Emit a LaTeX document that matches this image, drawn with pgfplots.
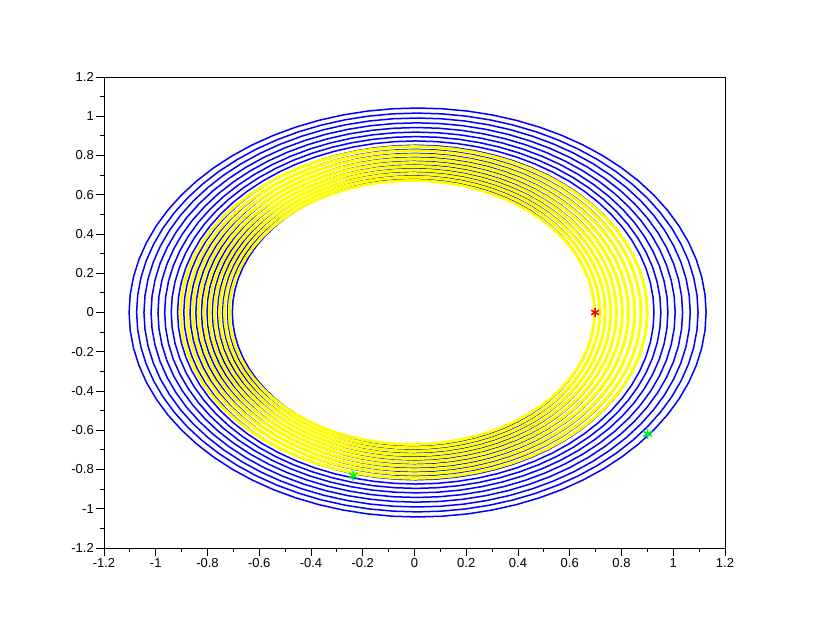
\documentclass[border=0pt]{standalone}
\usepackage{pgfplots}
\usepackage{pgfplotstable}
\pgfplotsset{compat=1.18}
\usepackage{fontspec}
\setmainfont{Liberation Sans}

\pgfplotstableread{
c s
1 0
0.99619 0.08716
0.98481 0.17365
0.96593 0.25882
0.93969 0.34202
0.90631 0.42262
0.86603 0.5
0.81915 0.57358
0.76604 0.64279
0.70711 0.70711
0.64279 0.76604
0.57358 0.81915
0.5 0.86603
0.42262 0.90631
0.34202 0.93969
0.25882 0.96593
0.17365 0.98481
0.08716 0.99619
0 1
-0.08716 0.99619
-0.17365 0.98481
-0.25882 0.96593
-0.34202 0.93969
-0.42262 0.90631
-0.5 0.86603
-0.57358 0.81915
-0.64279 0.76604
-0.70711 0.70711
-0.76604 0.64279
-0.81915 0.57358
-0.86603 0.5
-0.90631 0.42262
-0.93969 0.34202
-0.96593 0.25882
-0.98481 0.17365
-0.99619 0.08716
-1 0
-0.99619 -0.08716
-0.98481 -0.17365
-0.96593 -0.25882
-0.93969 -0.34202
-0.90631 -0.42262
-0.86603 -0.5
-0.81915 -0.57358
-0.76604 -0.64279
-0.70711 -0.70711
-0.64279 -0.76604
-0.57358 -0.81915
-0.5 -0.86603
-0.42262 -0.90631
-0.34202 -0.93969
-0.25882 -0.96593
-0.17365 -0.98481
-0.08716 -0.99619
0 -1
0.08716 -0.99619
0.17365 -0.98481
0.25882 -0.96593
0.34202 -0.93969
0.42262 -0.90631
0.5 -0.86603
0.57358 -0.81915
0.64279 -0.76604
0.70711 -0.70711
0.76604 -0.64279
0.81915 -0.57358
0.86603 -0.5
0.90631 -0.42262
0.93969 -0.34202
0.96593 -0.25882
0.98481 -0.17365
0.99619 -0.08716
1 0
}\unitcircle

\definecolor{sciblue}{rgb}{0,0,1}
\definecolor{sciyellow}{rgb}{1,1,0}
\definecolor{scigreen}{rgb}{0,0.95,0.1}

\begin{document}
\begin{tikzpicture}
\begin{axis}[
  scale only axis, width=621pt, height=471pt,
  xmin=-1.2, xmax=1.2, ymin=-1.2, ymax=1.2,
  xtick={-1.2,-1,-0.8,-0.6,-0.4,-0.2,0,0.2,0.4,0.6,0.8,1,1.2},
  ytick={-1.2,-1,-0.8,-0.6,-0.4,-0.2,0,0.2,0.4,0.6,0.8,1,1.2},
  minor tick num=1,
  tick align=outside, xtick pos=bottom, ytick pos=left,
  major tick length=8pt, minor tick length=4pt,
  axis line style={line width=0.8pt, black},
  tick style={black, line width=0.8pt},
  ticklabel style={font=\fontsize{13}{15}\selectfont, inner sep=2pt},
  /pgf/number format/assume math mode=true,
  clip=true,
]
% blue rings: semi-axis a, semi-axis b, centre x
\foreach \a/\b/\c in {
  1.1150/1.0420/0.012, 1.0849/1.0161/0.011, 1.0556/0.9910/0.010,
  1.0271/0.9664/0.009, 0.9994/0.9425/0.008, 0.9724/0.9191/0.007,
  0.9461/0.8963/0.006, 0.9206/0.8741/0.005, 0.8957/0.8524/0.004,
  0.8715/0.8312/0.004, 0.8480/0.8107/0.003, 0.8251/0.7905/0.002,
  0.8028/0.7709/0.001, 0.7811/0.7517/0.000, 0.7600/0.7331/-0.001,
  0.7395/0.7149/-0.002, 0.7195/0.6971/-0.003, 0.7001/0.6798/-0.004}{
  \edef\tmp{\noexpand\addplot[sciblue, line width=1.5pt, no markers]
    table[x expr=\c+\a*\noexpand\thisrow{c}, y expr=\b*\noexpand\thisrow{s}] {\noexpand\unitcircle};}
  \tmp
}
% yellow rings drawn over the inner blue rings
\foreach \a/\b/\c in {
  0.9017/0.8454/-0.002, 0.8775/0.8242/-0.002, 0.8540/0.8037/-0.003,
  0.8311/0.7835/-0.004, 0.8088/0.7639/-0.005, 0.7871/0.7447/-0.006,
  0.7660/0.7261/-0.007, 0.7455/0.7079/-0.008, 0.7255/0.6901/-0.009,
  0.7061/0.6728/-0.010}{
  \edef\tmp{\noexpand\addplot[sciyellow, line width=2.9pt, no markers]
    table[x expr=\c+\a*\noexpand\thisrow{c}, y expr=\b*\noexpand\thisrow{s}] {\noexpand\unitcircle};}
  \tmp
}
\addplot[only marks, mark=asterisk, mark size=4.5pt, red, line width=1.5pt] coordinates {(0.698,0.0)};
\addplot[only marks, mark=asterisk, mark size=5pt, scigreen, line width=1.6pt] coordinates {(0.901,-0.618) (-0.237,-0.831)};
\end{axis}
\path ([shift={(-104pt,-78pt)}]current axis.south west) rectangle ([shift={(105pt,77pt)}]current axis.north east);
\end{tikzpicture}
\end{document}
